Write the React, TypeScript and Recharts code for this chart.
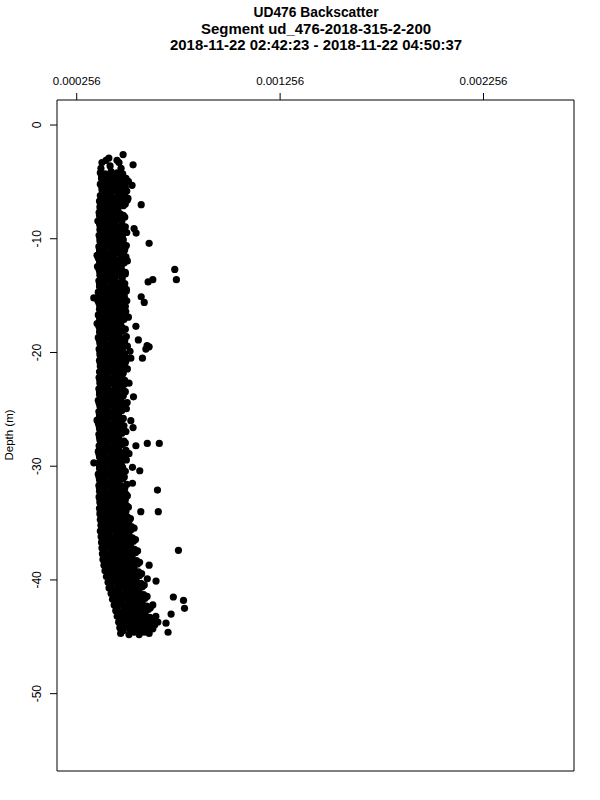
import { ScatterChart, Scatter, XAxis, YAxis, ReferenceArea } from 'recharts'

const titleLines = [
	'UD476 Backscatter',
	'Segment ud_476-2018-315-2-200',
	'2018-11-22 02:42:23 - 2018-11-22 04:50:37',
]
// R's bitmap font is wider than ours, so each title line gets its measured width
const titleWidths = [125, 230, 292]
const yLabel = 'Depth (m)'

const xTicks = [0.000256, 0.001256, 0.002256]
const yTicks = [0, -10, -20, -30, -40, -50]
const xDomain = [0.000159, 0.002701]
const yDomain = [-56.8, 2.2]

// [backscatter, depth]
const profileTop: [number, number][] = [
	[4.84e-4, -2.6], [4.14e-4, -2.9], [4.0e-4, -3.1], [4.54e-4, -3.1], [3.8e-4, -3.3], [4.64e-4, -3.3],
	[5.33e-4, -3.5], [4.2e-4, -3.6], [3.75e-4, -3.8], [4.74e-4, -3.8],
]

const bandRows: [number, number][] = [
	[3.72e-4, -4.2], [3.95e-4, -4.3], [4.25e-4, -4.1], [4.55e-4, -4.2], [4.82e-4, -4.3],
	[3.78e-4, -4.7], [4.02e-4, -4.8], [4.35e-4, -4.7], [4.68e-4, -4.6], [4.98e-4, -4.7],
	[3.72e-4, -5.2], [3.98e-4, -5.1], [4.2e-4, -5.3], [4.5e-4, -5.2], [4.8e-4, -5.1],
	[3.8e-4, -5.7], [4.05e-4, -5.8], [4.4e-4, -5.7], [4.72e-4, -5.6], [5.02e-4, -5.8],
	[3.72e-4, -6.2], [3.95e-4, -6.1], [4.22e-4, -6.3], [4.58e-4, -6.2], [4.9e-4, -6.1],
	[3.68e-4, -6.7], [3.9e-4, -6.8], [4.15e-4, -6.6], [4.45e-4, -6.7], [4.78e-4, -6.8], [5.05e-4, -6.6],
	[3.7e-4, -7.2], [3.92e-4, -7.1], [4.2e-4, -7.3], [4.52e-4, -7.2], [4.85e-4, -7.1],
	[3.66e-4, -7.7], [3.85e-4, -7.8], [4.1e-4, -7.6], [4.4e-4, -7.7], [4.7e-4, -7.8],
	[3.72e-4, -8.2], [3.98e-4, -8.1], [4.28e-4, -8.3], [4.6e-4, -8.2], [4.92e-4, -8.1],
	[3.68e-4, -8.7], [3.88e-4, -8.8], [4.12e-4, -8.6], [4.45e-4, -8.7], [4.78e-4, -8.8],
	[3.7e-4, -9.2], [3.95e-4, -9.1], [4.25e-4, -9.3], [4.58e-4, -9.2], [4.88e-4, -9.1],
	[3.66e-4, -9.7], [3.88e-4, -9.8], [4.15e-4, -9.6], [4.48e-4, -9.7], [4.8e-4, -9.8],
	[3.7e-4, -10.2], [3.92e-4, -10.1], [4.2e-4, -10.3], [4.55e-4, -10.2], [4.85e-4, -10.1],
	[3.65e-4, -10.7], [3.85e-4, -10.8], [4.1e-4, -10.6], [4.42e-4, -10.7], [4.75e-4, -10.8], [5.0e-4, -10.6],
	[3.68e-4, -11.2], [3.9e-4, -11.1], [4.22e-4, -11.3], [4.55e-4, -11.2], [4.88e-4, -11.1],
	[3.62e-4, -11.7], [3.82e-4, -11.8], [4.05e-4, -11.6], [4.38e-4, -11.7], [4.7e-4, -11.8], [4.98e-4, -11.6],
	[3.7e-4, -12.2], [3.95e-4, -12.1], [4.25e-4, -12.3], [4.6e-4, -12.2], [4.9e-4, -12.1],
	[3.66e-4, -12.7], [3.86e-4, -12.8], [4.12e-4, -12.6], [4.45e-4, -12.7], [4.78e-4, -12.8],
	[3.7e-4, -13.2], [3.98e-4, -13.1], [4.28e-4, -13.3], [4.62e-4, -13.2], [4.95e-4, -13.1],
	[3.65e-4, -13.7], [3.85e-4, -13.8], [4.1e-4, -13.6], [4.42e-4, -13.7], [4.75e-4, -13.8],
	[3.68e-4, -14.2], [3.9e-4, -14.1], [4.2e-4, -14.3], [4.52e-4, -14.2], [4.85e-4, -14.1],
	[3.62e-4, -14.7], [3.82e-4, -14.8], [4.08e-4, -14.6], [4.4e-4, -14.7], [4.72e-4, -14.8], [5.0e-4, -14.6],
	[3.72e-4, -15.2], [3.98e-4, -15.1], [4.28e-4, -15.3], [4.6e-4, -15.2], [4.9e-4, -15.1],
	[3.66e-4, -15.7], [3.88e-4, -15.8], [4.15e-4, -15.6], [4.48e-4, -15.7], [4.8e-4, -15.8],
	[3.68e-4, -16.2], [3.9e-4, -16.1], [4.2e-4, -16.3], [4.52e-4, -16.2], [4.85e-4, -16.1],
	[3.62e-4, -16.7], [3.82e-4, -16.8], [4.08e-4, -16.6], [4.4e-4, -16.7], [4.72e-4, -16.8],
	[3.7e-4, -17.2], [3.92e-4, -17.1], [4.22e-4, -17.3], [4.55e-4, -17.2], [4.88e-4, -17.1],
	[3.65e-4, -17.7], [3.86e-4, -17.8], [4.12e-4, -17.6], [4.45e-4, -17.7], [4.78e-4, -17.8],
	[3.68e-4, -18.2], [3.9e-4, -18.1], [4.18e-4, -18.3], [4.5e-4, -18.2], [4.82e-4, -18.1],
	[3.62e-4, -18.7], [3.84e-4, -18.8], [4.1e-4, -18.6], [4.42e-4, -18.7], [4.75e-4, -18.8], [5.0e-4, -18.6],
	[3.7e-4, -19.2], [3.92e-4, -19.1], [4.22e-4, -19.3], [4.55e-4, -19.2], [4.88e-4, -19.1],
	[3.66e-4, -19.7], [3.88e-4, -19.8], [4.15e-4, -19.6], [4.48e-4, -19.7], [4.8e-4, -19.8],
	[3.7e-4, -20.2], [3.95e-4, -20.1], [4.25e-4, -20.3], [4.58e-4, -20.2], [4.9e-4, -20.1],
	[3.68e-4, -20.7], [3.9e-4, -20.8], [4.18e-4, -20.6], [4.5e-4, -20.7], [4.82e-4, -20.8],
	[3.72e-4, -21.2], [3.98e-4, -21.1], [4.28e-4, -21.3], [4.6e-4, -21.2], [4.92e-4, -21.1],
	[3.68e-4, -21.7], [3.9e-4, -21.8], [4.2e-4, -21.6], [4.52e-4, -21.7], [4.85e-4, -21.8],
	[3.66e-4, -22.2], [3.86e-4, -22.1], [4.12e-4, -22.3], [4.45e-4, -22.2], [4.78e-4, -22.1],
	[3.7e-4, -22.7], [3.95e-4, -22.8], [4.25e-4, -22.6], [4.58e-4, -22.7], [4.9e-4, -22.8],
	[3.65e-4, -23.2], [3.86e-4, -23.1], [4.12e-4, -23.3], [4.45e-4, -23.2], [4.78e-4, -23.1],
	[3.68e-4, -23.7], [3.9e-4, -23.8], [4.2e-4, -23.6], [4.52e-4, -23.7], [4.85e-4, -23.8],
	[3.62e-4, -24.2], [3.82e-4, -24.1], [4.08e-4, -24.3], [4.4e-4, -24.2], [4.72e-4, -24.1],
	[3.7e-4, -24.7], [3.92e-4, -24.8], [4.22e-4, -24.6], [4.55e-4, -24.7], [4.88e-4, -24.8],
	[3.65e-4, -25.2], [3.86e-4, -25.1], [4.12e-4, -25.3], [4.45e-4, -25.2], [4.78e-4, -25.1],
	[3.68e-4, -25.7], [3.9e-4, -25.8], [4.2e-4, -25.6], [4.52e-4, -25.7], [4.85e-4, -25.8],
	[3.62e-4, -26.2], [3.84e-4, -26.1], [4.1e-4, -26.3], [4.42e-4, -26.2], [4.72e-4, -26.1],
	[3.68e-4, -26.7], [3.88e-4, -26.8], [4.18e-4, -26.6], [4.5e-4, -26.7], [4.82e-4, -26.8],
	[3.65e-4, -27.2], [3.86e-4, -27.1], [4.12e-4, -27.3], [4.45e-4, -27.2], [4.78e-4, -27.1],
	[3.7e-4, -27.7], [3.92e-4, -27.8], [4.22e-4, -27.6], [4.55e-4, -27.7], [4.88e-4, -27.8],
	[3.66e-4, -28.2], [3.88e-4, -28.1], [4.15e-4, -28.3], [4.48e-4, -28.2], [4.8e-4, -28.1],
	[3.62e-4, -28.7], [3.82e-4, -28.8], [4.08e-4, -28.6], [4.4e-4, -28.7], [4.72e-4, -28.8], [4.98e-4, -28.6],
	[3.68e-4, -29.2], [3.9e-4, -29.1], [4.2e-4, -29.3], [4.52e-4, -29.2], [4.85e-4, -29.1],
	[3.65e-4, -29.7], [3.85e-4, -29.8], [4.1e-4, -29.6], [4.42e-4, -29.7], [4.75e-4, -29.8],
	[3.68e-4, -30.2], [3.88e-4, -30.1], [4.18e-4, -30.3], [4.5e-4, -30.2], [4.82e-4, -30.1],
	[3.62e-4, -30.7], [3.84e-4, -30.8], [4.1e-4, -30.6], [4.42e-4, -30.7], [4.75e-4, -30.8],
	[3.68e-4, -31.2], [3.88e-4, -31.1], [4.18e-4, -31.3], [4.5e-4, -31.2], [4.82e-4, -31.1],
	[3.65e-4, -31.7], [3.86e-4, -31.8], [4.12e-4, -31.6], [4.45e-4, -31.7], [4.78e-4, -31.8], [5.02e-4, -31.6],
	[3.68e-4, -32.2], [3.9e-4, -32.1], [4.2e-4, -32.3], [4.52e-4, -32.2], [4.85e-4, -32.1],
	[3.66e-4, -32.7], [3.88e-4, -32.8], [4.15e-4, -32.6], [4.48e-4, -32.7], [4.8e-4, -32.8], [5.05e-4, -32.6],
	[3.7e-4, -33.2], [3.92e-4, -33.1], [4.22e-4, -33.3], [4.55e-4, -33.2], [4.88e-4, -33.1],
	[3.68e-4, -33.7], [3.88e-4, -33.8], [4.18e-4, -33.6], [4.5e-4, -33.7], [4.82e-4, -33.8], [5.1e-4, -33.6],
	[3.7e-4, -34.2], [3.95e-4, -34.1], [4.25e-4, -34.3], [4.58e-4, -34.2], [4.9e-4, -34.1],
	[3.72e-4, -34.7], [3.98e-4, -34.8], [4.28e-4, -34.6], [4.6e-4, -34.7], [4.92e-4, -34.8], [5.2e-4, -34.6],
	[3.75e-4, -35.2], [3.98e-4, -35.1], [4.3e-4, -35.3], [4.62e-4, -35.2], [4.95e-4, -35.1], [5.25e-4, -35.3],
	[3.72e-4, -35.7], [3.95e-4, -35.8], [4.25e-4, -35.6], [4.58e-4, -35.7], [4.9e-4, -35.8], [5.22e-4, -35.6],
	[3.76e-4, -36.2], [4.0e-4, -36.1], [4.32e-4, -36.3], [4.65e-4, -36.2], [4.98e-4, -36.1], [5.3e-4, -36.3],
	[3.78e-4, -36.7], [4.05e-4, -36.8], [4.38e-4, -36.6], [4.7e-4, -36.7], [5.02e-4, -36.8], [5.35e-4, -36.6],
	[3.8e-4, -37.2], [4.1e-4, -37.1], [4.42e-4, -37.3], [4.75e-4, -37.2], [5.08e-4, -37.1], [5.4e-4, -37.3],
	[3.82e-4, -37.7], [4.12e-4, -37.8], [4.45e-4, -37.6], [4.78e-4, -37.7], [5.1e-4, -37.8], [5.45e-4, -37.6],
	[3.85e-4, -38.2], [4.18e-4, -38.1], [4.5e-4, -38.3], [4.82e-4, -38.2], [5.15e-4, -38.1], [5.5e-4, -38.3],
	[3.9e-4, -38.7], [4.22e-4, -38.8], [4.55e-4, -38.6], [4.88e-4, -38.7], [5.2e-4, -38.8], [5.55e-4, -38.6],
	[3.95e-4, -39.2], [4.28e-4, -39.1], [4.6e-4, -39.3], [4.92e-4, -39.2], [5.25e-4, -39.1], [5.6e-4, -39.3],
	[4.02e-4, -39.7], [4.35e-4, -39.8], [4.68e-4, -39.6], [5.0e-4, -39.7], [5.32e-4, -39.8], [5.65e-4, -39.6],
	[4.1e-4, -40.2], [4.42e-4, -40.1], [4.75e-4, -40.3], [5.08e-4, -40.2], [5.4e-4, -40.1], [5.72e-4, -40.3],
	[4.15e-4, -40.7], [4.48e-4, -40.8], [4.8e-4, -40.6], [5.12e-4, -40.7], [5.45e-4, -40.8], [5.78e-4, -40.6],
	[4.25e-4, -41.2], [4.55e-4, -41.1], [4.88e-4, -41.3], [5.2e-4, -41.2], [5.52e-4, -41.1], [5.85e-4, -41.3],
	[4.32e-4, -41.7], [4.62e-4, -41.8], [4.95e-4, -41.6], [5.28e-4, -41.7], [5.6e-4, -41.8], [5.92e-4, -41.6],
	[4.4e-4, -42.2], [4.7e-4, -42.1], [5.02e-4, -42.3], [5.35e-4, -42.2], [5.68e-4, -42.1], [6.0e-4, -42.3], [6.3e-4, -42.2],
	[4.48e-4, -42.7], [4.78e-4, -42.8], [5.1e-4, -42.6], [5.42e-4, -42.7], [5.75e-4, -42.8], [6.08e-4, -42.6],
	[4.55e-4, -43.2], [4.85e-4, -43.1], [5.18e-4, -43.3], [5.5e-4, -43.2], [5.82e-4, -43.1], [6.15e-4, -43.3], [6.45e-4, -43.2],
	[4.62e-4, -43.7], [4.92e-4, -43.8], [5.25e-4, -43.6], [5.58e-4, -43.7], [5.9e-4, -43.8], [6.22e-4, -43.6], [6.55e-4, -43.7],
	[4.68e-4, -44.2], [5.0e-4, -44.1], [5.32e-4, -44.3], [5.65e-4, -44.2], [5.98e-4, -44.1], [6.3e-4, -44.3],
	[4.72e-4, -44.7], [5.13e-4, -44.8], [5.38e-4, -44.6], [5.63e-4, -44.8], [5.88e-4, -44.6], [6.12e-4, -44.7],
]

const bandBetween: [number, number][] = [
	[3.78e-4, -4.45], [4.08e-4, -4.45], [4.4e-4, -4.45], [4.7e-4, -4.45],
	[3.88e-4, -4.95], [4.18e-4, -4.95], [4.52e-4, -4.95], [4.85e-4, -4.95], [5.1e-4, -4.95],
	[3.8e-4, -5.45], [4.1e-4, -5.45], [4.62e-4, -5.45], [4.95e-4, -5.45],
	[3.9e-4, -5.95], [4.25e-4, -5.95], [4.58e-4, -5.95], [4.88e-4, -5.95],
	[3.78e-4, -6.45], [4.08e-4, -6.45], [4.4e-4, -6.45], [4.75e-4, -6.45], [5.08e-4, -6.45],
	[3.75e-4, -6.95], [4.0e-4, -6.95], [4.32e-4, -6.95], [4.62e-4, -6.95], [4.95e-4, -6.95],
	[3.72e-4, -7.45], [3.98e-4, -7.45], [4.28e-4, -7.45], [4.58e-4, -7.45],
	[3.68e-4, -7.95], [3.92e-4, -7.95], [4.25e-4, -7.95], [4.55e-4, -7.95], [4.85e-4, -7.95],
	[3.6e-4, -8.45], [3.82e-4, -8.45], [4.1e-4, -8.45], [4.45e-4, -8.45], [4.78e-4, -8.45],
	[3.72e-4, -8.95], [4.0e-4, -8.95], [4.32e-4, -8.95], [4.62e-4, -8.95], [4.95e-4, -8.95],
	[3.78e-4, -9.45], [4.08e-4, -9.45], [4.4e-4, -9.45], [4.72e-4, -9.45], [5.02e-4, -9.45],
	[3.7e-4, -9.95], [4.0e-4, -9.95], [4.32e-4, -9.95], [4.65e-4, -9.95],
	[3.75e-4, -10.45], [4.05e-4, -10.45], [4.38e-4, -10.45], [4.7e-4, -10.45],
	[3.68e-4, -10.95], [3.95e-4, -10.95], [4.28e-4, -10.95], [4.62e-4, -10.95], [4.92e-4, -10.95],
	[3.56e-4, -11.45], [3.78e-4, -11.45], [4.05e-4, -11.45], [4.38e-4, -11.45], [4.72e-4, -11.45],
	[3.68e-4, -11.95], [3.95e-4, -11.95], [4.22e-4, -11.95], [4.55e-4, -11.95], [4.85e-4, -11.95], [5.05e-4, -11.95],
	[3.58e-4, -12.45], [3.8e-4, -12.45], [4.08e-4, -12.45], [4.42e-4, -12.45], [4.75e-4, -12.45],
	[3.7e-4, -12.95], [3.98e-4, -12.95], [4.3e-4, -12.95], [4.62e-4, -12.95], [4.95e-4, -12.95],
	[3.78e-4, -13.45], [4.1e-4, -13.45], [4.45e-4, -13.45], [4.8e-4, -13.45],
	[3.68e-4, -13.95], [3.95e-4, -13.95], [4.28e-4, -13.95], [4.6e-4, -13.95], [4.92e-4, -13.95],
	[3.74e-4, -14.45], [4.02e-4, -14.45], [4.35e-4, -14.45], [4.68e-4, -14.45], [5.0e-4, -14.45],
	[3.66e-4, -14.95], [3.92e-4, -14.95], [4.25e-4, -14.95], [4.55e-4, -14.95], [4.88e-4, -14.95],
	[3.6e-4, -15.45], [3.8e-4, -15.45], [4.1e-4, -15.45], [4.45e-4, -15.45], [4.75e-4, -15.45], [5.02e-4, -15.45],
	[3.7e-4, -15.95], [3.98e-4, -15.95], [4.32e-4, -15.95], [4.65e-4, -15.95], [4.95e-4, -15.95],
	[3.74e-4, -16.45], [4.02e-4, -16.45], [4.35e-4, -16.45], [4.68e-4, -16.45],
	[3.68e-4, -16.95], [3.92e-4, -16.95], [4.25e-4, -16.95], [4.58e-4, -16.95], [4.9e-4, -16.95],
	[3.56e-4, -17.45], [3.78e-4, -17.45], [4.05e-4, -17.45], [4.38e-4, -17.45], [4.72e-4, -17.45],
	[3.7e-4, -17.95], [3.98e-4, -17.95], [4.3e-4, -17.95], [4.62e-4, -17.95], [4.95e-4, -17.95],
	[3.74e-4, -18.45], [4.02e-4, -18.45], [4.35e-4, -18.45], [4.65e-4, -18.45],
	[3.68e-4, -18.95], [3.95e-4, -18.95], [4.28e-4, -18.95], [4.6e-4, -18.95], [4.92e-4, -18.95],
	[3.75e-4, -19.45], [4.05e-4, -19.45], [4.38e-4, -19.45], [4.72e-4, -19.45], [5.05e-4, -19.45],
	[3.7e-4, -19.95], [3.98e-4, -19.95], [4.3e-4, -19.95], [4.65e-4, -19.95],
	[3.78e-4, -20.45], [4.08e-4, -20.45], [4.42e-4, -20.45], [4.75e-4, -20.45], [5.0e-4, -20.45],
	[3.72e-4, -20.95], [4.02e-4, -20.95], [4.35e-4, -20.95], [4.68e-4, -20.95],
	[3.8e-4, -21.45], [4.12e-4, -21.45], [4.45e-4, -21.45], [4.78e-4, -21.45], [5.05e-4, -21.45],
	[3.74e-4, -21.95], [4.05e-4, -21.95], [4.38e-4, -21.95], [4.7e-4, -21.95],
	[3.7e-4, -22.45], [3.95e-4, -22.45], [4.28e-4, -22.45], [4.62e-4, -22.45], [4.92e-4, -22.45],
	[3.76e-4, -22.95], [4.08e-4, -22.95], [4.42e-4, -22.95], [4.75e-4, -22.95],
	[3.68e-4, -23.45], [3.95e-4, -23.45], [4.28e-4, -23.45], [4.62e-4, -23.45], [4.95e-4, -23.45],
	[3.74e-4, -23.95], [4.02e-4, -23.95], [4.35e-4, -23.95], [4.68e-4, -23.95],
	[3.66e-4, -24.45], [3.92e-4, -24.45], [4.25e-4, -24.45], [4.58e-4, -24.45], [4.88e-4, -24.45],
	[3.74e-4, -24.95], [4.05e-4, -24.95], [4.38e-4, -24.95], [4.7e-4, -24.95], [5.0e-4, -24.95],
	[3.68e-4, -25.45], [3.95e-4, -25.45], [4.28e-4, -25.45], [4.62e-4, -25.45],
	[3.56e-4, -25.95], [3.78e-4, -25.95], [4.05e-4, -25.95], [4.38e-4, -25.95], [4.7e-4, -25.95],
	[3.66e-4, -26.45], [3.92e-4, -26.45], [4.25e-4, -26.45], [4.58e-4, -26.45], [4.88e-4, -26.45],
	[3.74e-4, -26.95], [4.02e-4, -26.95], [4.35e-4, -26.95], [4.68e-4, -26.95], [4.98e-4, -26.95],
	[3.68e-4, -27.45], [3.95e-4, -27.45], [4.28e-4, -27.45], [4.62e-4, -27.45],
	[3.76e-4, -27.95], [4.05e-4, -27.95], [4.38e-4, -27.95], [4.72e-4, -27.95], [4.95e-4, -27.95],
	[3.7e-4, -28.45], [3.98e-4, -28.45], [4.3e-4, -28.45], [4.62e-4, -28.45],
	[3.66e-4, -28.95], [3.92e-4, -28.95], [4.25e-4, -28.95], [4.58e-4, -28.95], [4.88e-4, -28.95],
	[3.74e-4, -29.45], [4.02e-4, -29.45], [4.35e-4, -29.45], [4.68e-4, -29.45], [5.0e-4, -29.45],
	[3.68e-4, -29.95], [3.95e-4, -29.95], [4.28e-4, -29.95], [4.6e-4, -29.95],
	[3.74e-4, -30.45], [4.02e-4, -30.45], [4.35e-4, -30.45], [4.65e-4, -30.45], [4.95e-4, -30.45],
	[3.66e-4, -30.95], [3.92e-4, -30.95], [4.25e-4, -30.95], [4.58e-4, -30.95], [4.9e-4, -30.95],
	[3.72e-4, -31.45], [4.0e-4, -31.45], [4.32e-4, -31.45], [4.65e-4, -31.45],
	[3.68e-4, -31.95], [3.95e-4, -31.95], [4.28e-4, -31.95], [4.62e-4, -31.95], [4.92e-4, -31.95],
	[3.74e-4, -32.45], [4.02e-4, -32.45], [4.35e-4, -32.45], [4.68e-4, -32.45], [4.98e-4, -32.45],
	[3.7e-4, -32.95], [3.98e-4, -32.95], [4.3e-4, -32.95], [4.62e-4, -32.95], [4.95e-4, -32.95],
	[3.76e-4, -33.45], [4.05e-4, -33.45], [4.38e-4, -33.45], [4.7e-4, -33.45], [5.0e-4, -33.45],
	[3.72e-4, -33.95], [4.0e-4, -33.95], [4.32e-4, -33.95], [4.65e-4, -33.95], [4.98e-4, -33.95],
	[3.78e-4, -34.45], [4.08e-4, -34.45], [4.42e-4, -34.45], [4.75e-4, -34.45], [5.05e-4, -34.45],
	[3.8e-4, -34.95], [4.12e-4, -34.95], [4.45e-4, -34.95], [4.78e-4, -34.95], [5.08e-4, -34.95],
	[3.8e-4, -35.45], [4.12e-4, -35.45], [4.45e-4, -35.45], [4.78e-4, -35.45], [5.1e-4, -35.45], [5.38e-4, -35.45],
	[3.82e-4, -35.95], [4.15e-4, -35.95], [4.48e-4, -35.95], [4.8e-4, -35.95], [5.12e-4, -35.95],
	[3.85e-4, -36.45], [4.18e-4, -36.45], [4.5e-4, -36.45], [4.82e-4, -36.45], [5.15e-4, -36.45], [5.45e-4, -36.45],
	[3.9e-4, -36.95], [4.22e-4, -36.95], [4.55e-4, -36.95], [4.88e-4, -36.95], [5.2e-4, -36.95],
	[3.95e-4, -37.45], [4.28e-4, -37.45], [4.6e-4, -37.45], [4.92e-4, -37.45], [5.25e-4, -37.45], [5.55e-4, -37.45],
	[3.98e-4, -37.95], [4.3e-4, -37.95], [4.62e-4, -37.95], [4.95e-4, -37.95], [5.28e-4, -37.95],
	[4.02e-4, -38.45], [4.35e-4, -38.45], [4.68e-4, -38.45], [5.0e-4, -38.45], [5.32e-4, -38.45], [5.65e-4, -38.45],
	[4.08e-4, -38.95], [4.4e-4, -38.95], [4.72e-4, -38.95], [5.05e-4, -38.95], [5.38e-4, -38.95],
	[4.12e-4, -39.45], [4.45e-4, -39.45], [4.78e-4, -39.45], [5.1e-4, -39.45], [5.42e-4, -39.45], [5.75e-4, -39.45],
	[4.18e-4, -39.95], [4.5e-4, -39.95], [4.82e-4, -39.95], [5.15e-4, -39.95], [5.48e-4, -39.95],
	[4.25e-4, -40.45], [4.58e-4, -40.45], [4.9e-4, -40.45], [5.22e-4, -40.45], [5.55e-4, -40.45], [5.88e-4, -40.45],
	[4.32e-4, -40.95], [4.65e-4, -40.95], [4.98e-4, -40.95], [5.3e-4, -40.95], [5.62e-4, -40.95],
	[4.4e-4, -41.45], [4.72e-4, -41.45], [5.05e-4, -41.45], [5.38e-4, -41.45], [5.7e-4, -41.45], [6.02e-4, -41.45],
	[4.48e-4, -41.95], [4.8e-4, -41.95], [5.12e-4, -41.95], [5.45e-4, -41.95], [5.78e-4, -41.95],
	[4.55e-4, -42.45], [4.88e-4, -42.45], [5.2e-4, -42.45], [5.52e-4, -42.45], [5.85e-4, -42.45], [6.18e-4, -42.45],
	[4.62e-4, -42.95], [4.95e-4, -42.95], [5.28e-4, -42.95], [5.6e-4, -42.95], [5.92e-4, -42.95],
	[4.7e-4, -43.45], [5.02e-4, -43.45], [5.35e-4, -43.45], [5.68e-4, -43.45], [6.0e-4, -43.45], [6.32e-4, -43.45],
	[4.78e-4, -43.95], [5.1e-4, -43.95], [5.42e-4, -43.95], [5.75e-4, -43.95], [6.08e-4, -43.95], [6.4e-4, -43.95],
	[4.85e-4, -44.45], [5.2e-4, -44.45], [5.5e-4, -44.45], [5.8e-4, -44.45], [6.05e-4, -44.45],
]

const stragglers: [number, number][] = [
	[5.28e-4, -5.3], [5.73e-4, -7.0], [5.38e-4, -9.1], [5.48e-4, -9.5], [6.12e-4, -10.4], [4.89e-4, -10.7],
	[7.38e-4, -12.7], [7.46e-4, -13.6], [6.07e-4, -13.8], [6.3e-4, -13.6], [5.73e-4, -15.1], [5.88e-4, -15.6],
	[3.4e-4, -15.2], [4.97e-4, -16.4], [5.1e-4, -16.9], [5.47e-4, -17.7], [5.59e-4, -18.9], [6.02e-4, -19.4],
	[6.12e-4, -19.5], [5.96e-4, -19.7], [5.18e-4, -19.9], [5.79e-4, -20.5], [5.22e-4, -20.5], [4.97e-4, -20.8],
	[5.13e-4, -22.7], [5.35e-4, -23.9], [5.04e-4, -24.4], [5.22e-4, -26.0], [5.33e-4, -26.6], [4.79e-4, -26.4],
	[6.03e-4, -28.0], [6.62e-4, -28.0], [5.47e-4, -28.2], [5.13e-4, -28.9], [3.4e-4, -29.7], [5.3e-4, -30.1],
	[5.66e-4, -30.4], [5.3e-4, -31.5], [6.53e-4, -32.1], [5.71e-4, -34.0], [6.57e-4, -34.0], [5.13e-4, -34.8],
	[7.56e-4, -37.4], [6.12e-4, -38.7], [6.03e-4, -39.9], [6.46e-4, -40.1], [7.31e-4, -41.5], [7.81e-4, -41.8],
	[7.86e-4, -42.5], [7.2e-4, -43.0], [6.95e-4, -43.8], [7.05e-4, -44.6],
]

const data = [...profileTop, ...bandRows, ...bandBetween, ...stragglers].map(([backscatter, depth]) => ({
	backscatter,
	depth,
}))

const font = '"Liberation Sans", Arial, Helvetica, sans-serif'

function XTick({ x, payload }: any) {
	return (
		<text x={x} y={85} textAnchor="middle" fontSize={11.5} fontFamily={font} fill="#000">
			{payload.value.toFixed(6)}
		</text>
	)
}

function YTick({ y, payload }: any) {
	return (
		<text
			x={41}
			y={y}
			transform={`rotate(-90 41 ${y})`}
			textAnchor="middle"
			fontSize={12}
			fontFamily={font}
			fill="#000"
		>
			{payload.value}
		</text>
	)
}

function Dot({ cx, cy }: any) {
	return <circle cx={cx} cy={cy} r={3.6} fill="#000" />
}

export default function App() {
	return (
		<div style={{ position: 'absolute', left: 0, top: 0, width: 600, height: 800, background: '#fff' }}>
			<ScatterChart width={600} height={800} margin={{ top: 70, right: 26, bottom: 29, left: 0 }}>
				<XAxis
					type="number"
					dataKey="backscatter"
					orientation="top"
					domain={xDomain}
					ticks={xTicks}
					allowDataOverflow
					height={30}
					axisLine={false}
					tickSize={7}
					stroke="#000"
					tick={<XTick />}
				/>
				<YAxis
					type="number"
					dataKey="depth"
					domain={yDomain}
					ticks={yTicks}
					allowDataOverflow
					width={57}
					axisLine={false}
					tickSize={7}
					stroke="#000"
					tick={<YTick />}
				/>
				<ReferenceArea
					x1={xDomain[0]}
					x2={xDomain[1]}
					y1={yDomain[0]}
					y2={yDomain[1]}
					fill="none"
					stroke="#000"
					strokeWidth={1}
				/>
				<Scatter data={data} shape={<Dot />} isAnimationActive={false} />
			</ScatterChart>
			<svg
				width={600}
				height={800}
				style={{ position: 'absolute', left: 0, top: 0, pointerEvents: 'none' }}
			>
				{titleLines.map((line, i) => (
					<text
						key={line}
						x={316}
						y={17 + i * 16.5}
						textAnchor="middle"
						fontSize={14}
						fontWeight="bold"
						fontFamily={font}
						fill="#000"
						textLength={titleWidths[i]}
						lengthAdjust="spacingAndGlyphs"
					>
						{line}
					</text>
				))}
				<text
					x={13}
					y={435}
					transform="rotate(-90 13 435)"
					textAnchor="middle"
					fontSize={11.5}
					fontFamily={font}
					fill="#000"
				>
					{yLabel}
				</text>
			</svg>
		</div>
	)
}
